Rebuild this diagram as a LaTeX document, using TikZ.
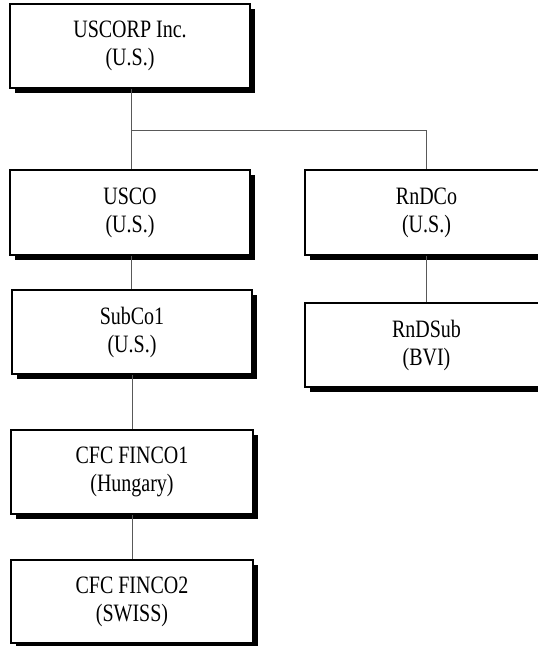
\documentclass[tikz,border=0pt]{standalone}
\usepackage{fontspec}
\setmainfont[FakeStretch=0.8]{Liberation Serif}
\usetikzlibrary{shadows}
\tikzset{
  entity/.style={draw=black, line width=1.3pt, fill=white, align=center,
    inner sep=0pt, minimum width=240pt, minimum height=84pt,
    font=\fontsize{25pt}{28pt}\selectfont,
    general shadow={fill=black, shadow xshift=4.5pt, shadow yshift=-4.5pt}},
  link/.style={draw=black!65, line width=1pt}
}
\begin{document}
\begin{tikzpicture}[x=1pt,y=-1pt]
\clip (0,0) rectangle (538,646);
\fill[white] (0,0) rectangle (538,646);
\node[entity] (uscorp) at (130,46) {USCORP Inc.\\(U.S.)};
\node[entity, minimum height=85pt] (usco) at (130,212.5) {USCO\\(U.S.)};
\node[entity] (subco) at (132,332) {SubCo1\\(U.S.)};
\node[entity, minimum width=242pt] (fin1) at (132,472) {CFC FINCO1\\(Hungary)};
\node[entity, minimum width=242pt, minimum height=83pt] (fin2) at (132,601.5) {CFC FINCO2\\(SWISS)};
\node[entity, minimum width=243pt, minimum height=85pt] (rndco) at (426.5,212.5) {RnDCo\\(U.S.)};
\node[entity, minimum width=243pt] (rndsub) at (426.5,345) {RnDSub\\(BVI)};
\coordinate (split) at (131,130);
\draw[link] (uscorp.south -| split) -- (split) -| (rndco.north);
\draw[link] (split) -- (usco.north -| split);
\draw[link] (usco.south -| split) -- (subco.north -| split);
\draw[link] (subco.south) -- (fin1.north);
\draw[link] (fin1.south) -- (fin2.north);
\draw[link] (rndco.south) -- (rndsub.north);
\end{tikzpicture}
\end{document}
